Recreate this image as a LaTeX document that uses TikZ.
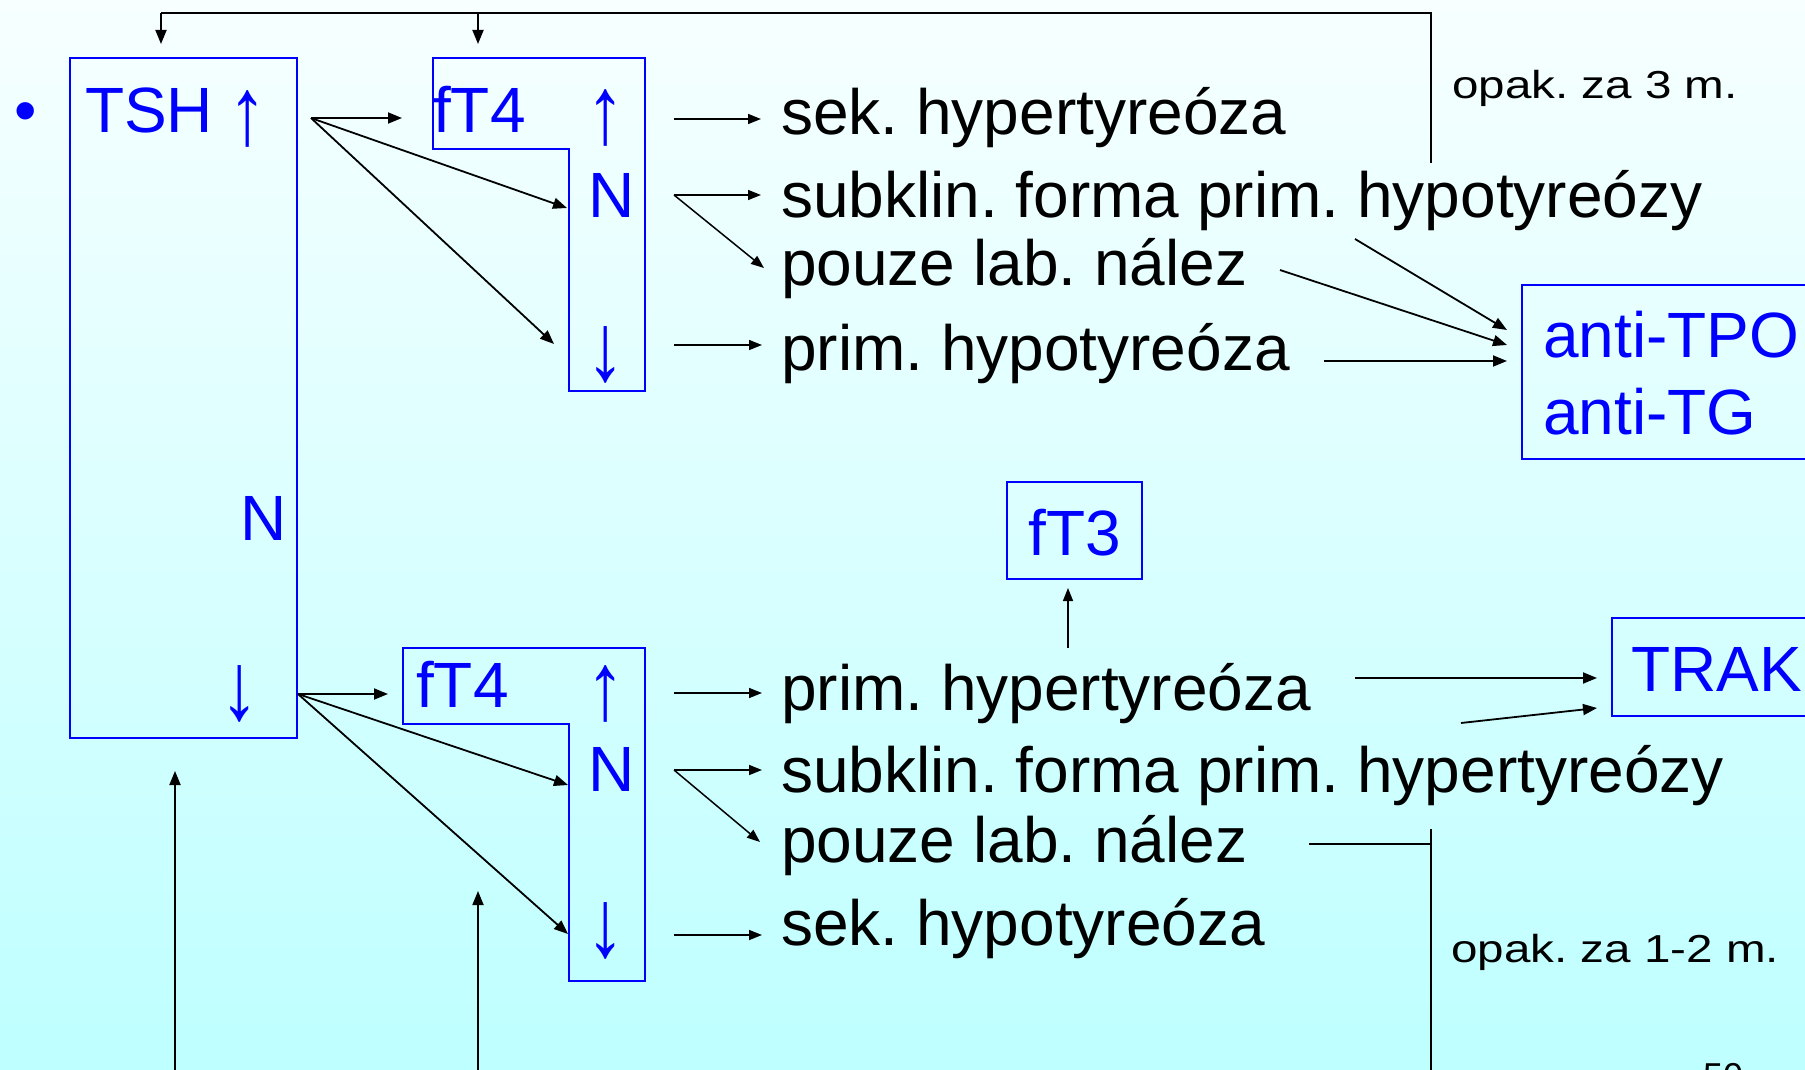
\documentclass[tikz,border=0pt]{standalone}
\usepackage{fontspec}
\setmainfont{Liberation Sans}
\usetikzlibrary{arrows.meta}
\definecolor{bgtop}{RGB}{247,255,255}
\definecolor{bgbot}{RGB}{190,255,255}
\definecolor{boxblue}{RGB}{0,0,255}
\newcommand{\tallarrow}[1]{\scalebox{1.2}[1.5]{#1}}
\begin{document}
\frenchspacing
\begin{tikzpicture}[x=1pt,y=-1pt,
  big/.style={font=\fontsize{64}{64}\selectfont, inner sep=0pt, anchor=base west},
  bigc/.style={font=\fontsize{64}{64}\selectfont, inner sep=0pt, text=boxblue},
  note/.style={inner sep=0pt, anchor=base west},
  conn/.style={line width=1.8pt, -{Triangle[length=14pt,width=11pt]}},
  thin/.style={line width=1.5pt, -{Triangle[length=13pt,width=10pt]}},
  plain/.style={line width=1.6pt},
  bbox/.style={draw=boxblue, line width=2.3pt}]
\useasboundingbox (0,0) rectangle (1805,1070);
\clip (0,0) rectangle (1805,1070);
\fill[top color=bgtop, bottom color=bgbot] (0,0) rectangle (1805,1070);

% ---------- boxes ----------
\draw[bbox] (70,58) rectangle (297,738);
\coordinate (tshbox) at (70,58);
\draw[bbox] (433,58) -- (645,58) -- (645,391) -- (569,391) -- (569,149) -- (433,149) -- cycle;
\draw[bbox] (403,648) -- (645,648) -- (645,981) -- (569,981) -- (569,724) -- (403,724) -- cycle;
\draw[bbox] (1522,285) rectangle (1830,459);
\draw[bbox] (1007,482) rectangle (1142,579);
\draw[bbox] (1612,618) rectangle (1830,716);

% ---------- blue texts ----------
\node[big, text=boxblue] (bullet) at (14,133) {•};
\node[big, text=boxblue] (tsh) at (85,133) {TSH};
\node[bigc] (tshup) at (248,119) {\tallarrow{↑}};
\node[bigc, anchor=base] (tshn) at (264,540) {N};
\node[bigc] (tshdn) at (240,694) {\tallarrow{↓}};

\node[big, text=boxblue] (ftu) at (433,133) {fT4};
\node[bigc] (ftuup) at (606,118) {\tallarrow{↑}};
\node[bigc, anchor=base] (ftun) at (612,217) {N};
\node[bigc] (ftudn) at (606,355) {\tallarrow{↓}};

\node[big, text=boxblue] (ftl) at (416,707) {fT4};
\node[bigc] (ftlup) at (606,694) {\tallarrow{↑}};
\node[bigc, anchor=base] (ftln) at (612,791) {N};
\node[bigc] (ftldn) at (606,931) {\tallarrow{↓}};

\node[big, text=boxblue] (tpo) at (1543,357) {anti-TPO};
\node[big, text=boxblue] (tg) at (1543,434) {anti-TG};
\node[big, text=boxblue] (ft3) at (1028,555) {fT3};
\node[big, text=boxblue] (trak) at (1631,691) {TRAK};

% ---------- black texts ----------
\node[big] (r1) at (781,135) {sek. hypertyreóza};
\node[big] (r2) at (781,217) {subklin. forma prim. hypotyreózy};
\node[big] (r3) at (781,285) {pouze lab. nález};
\node[big] (r4) at (781,370) {prim. hypotyreóza};
\node[big] (s1) at (781,710) {prim. hypertyreóza};
\node[big] (s2) at (781,792) {subklin. forma prim. hypertyreózy};
\node[big] (s3) at (781,862) {pouze lab. nález};
\node[big] (s4) at (781,945) {sek. hypotyreóza};

\node[note] (op3) at (1452,99) {\scalebox{1.22}[1]{\fontsize{39}{39}\selectfont opak. za 3 m.}};
\node[note] (op12) at (1451,962) {\scalebox{1.22}[1]{\fontsize{39}{39}\selectfont opak. za 1-2 m.}};
\node[note] (pg) at (1703,1088) {\fontsize{36}{36}\selectfont 50};

% ---------- connector points ----------
\coordinate (o1) at (311,118);
\coordinate (o2) at (298,694);

% upper TSH arrows
\draw[conn] (o1) -- (402,118);
\draw[conn] (o1) -- (567,208);
\draw[conn] (o1) -- (554,344);
% lower TSH arrows
\draw[conn] (o2) -- (388,694);
\draw[conn] (o2) -- (568,785);
\draw[conn] (o2) -- (568,934);

% upper result arrows
\draw[thin] (674,119) -- (761,119);
\draw[thin] (674,195) -- (761,195);
\draw[thin] (674,195) -- (764,268);
\draw[thin] (674,345) -- (762,345);
% lower result arrows
\draw[thin] (674,693) -- (762,693);
\draw[thin] (674,770) -- (762,770);
\draw[thin] (674,770) -- (760,842);
\draw[thin] (674,935) -- (762,935);

% to anti-TPO / anti-TG
\draw[conn] (1355,239) -- (1507,330);
\draw[conn] (1280,270) -- (1507,345);
\draw[conn] (1324,361) -- (1507,361);
% to fT3
\draw[thin] (1068,648) -- (1068,588);
% to TRAK
\draw[conn] (1355,678) -- (1597,678);
\draw[conn] (1461,723) -- (1597,708);

% top feedback
\draw[plain] (1431,163) -- (1431,13) -- (161,13);
\draw[conn] (161,13) -- (161,44);
\draw[conn] (478,13) -- (478,44);
% bottom feedback
\draw[plain] (1309,844) -- (1431,844);
\draw[plain] (1431,829) -- (1431,1080);
\draw[conn] (175,1080) -- (175,771);
\draw[conn] (478,1080) -- (478,891);
\end{tikzpicture}
\end{document}
